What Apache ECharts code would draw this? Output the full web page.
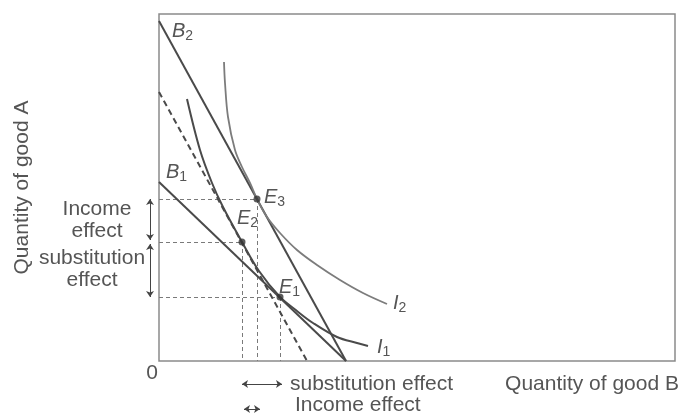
<!DOCTYPE html>
<html><head><meta charset="utf-8">
<script src="https://cdn.jsdelivr.net/npm/echarts@6/dist/echarts.min.js"></script>
<style>html,body{margin:0;padding:0;background:#fff}#c{width:680px;height:416px}</style>
</head><body><div id="c"></div>
<script>
// ---- data (units: chart value units on both axes) ----
const xRange = [0, 516];
const yRange = [0, 347];
const budgetB1 = [[0, 179], [187, 0]];
const budgetB2 = [[0, 340], [187, 0]];
const budgetHelper = [[0, 269], [148, 0]];
const curveI1 = [[28,262],[41,211],[53,178],[64,154],[83,119],[100,90],[121,64],[138,50],[154,38],[178,24],[198,18],[209,15]];
const curveI2 = [[65,299],[66,278],[69,244],[76,211],[83,194],[91,178],[98,162],[108,144],[121,128],[138,111],[158,96],[181,81],[204,68],[228,57]];
const eqNames = ['1', '2', '3'];
const eqX = [121, 83, 98];
const eqY = [64, 119, 162];

// ---- styles ----
const FONT = "'Liberation Sans', Arial, Helvetica, sans-serif";
const TXT = '#555';
const DARK = '#4a4a4a';
const FS = 21;

const chart = echarts.init(document.getElementById('c'));

const guides = [];
eqX.forEach((x, i) => {
  guides.push({ coords: [[xRange[0], eqY[i]], [x, eqY[i]]] });
  guides.push({ coords: [[x, eqY[i]], [x, yRange[0]]] });
});

const leftArrowX = -9, rowSub = -23, rowInc = -48, gap = 2;
const arrows = [
  { coords: [[leftArrowX, eqY[2]], [leftArrowX, eqY[1] + gap]] },
  { coords: [[leftArrowX, eqY[1] - gap], [leftArrowX, eqY[0]]] },
  { coords: [[eqX[1], rowSub], [eqX[0] + 2, rowSub]] },
  { coords: [[eqX[1] + 2, rowInc], [eqX[2] + 3, rowInc]] }
];

const solid = (data, color, w) => ({
  type: 'line', data, showSymbol: false, silent: true, z: 3,
  lineStyle: { color, width: w }
});

chart.setOption({
  animation: false,
  backgroundColor: '#fff',
  grid: { left: 159, top: 14, width: 516, height: 347, show: true, borderColor: '#8a8a8a', borderWidth: 1.5 },
  xAxis: { type: 'value', min: xRange[0], max: xRange[1], axisLine: { show: false }, axisTick: { show: false }, axisLabel: { show: false }, splitLine: { show: false } },
  yAxis: { type: 'value', min: yRange[0], max: yRange[1], axisLine: { show: false }, axisTick: { show: false }, axisLabel: { show: false }, splitLine: { show: false },
    name: 'Quantity of good A', nameLocation: 'middle', nameGap: 126,
    nameTextStyle: { fontFamily: FONT, fontSize: FS, color: TXT } },
  series: [
    { type: 'lines', coordinateSystem: 'cartesian2d', data: guides, silent: true, z: 1,
      lineStyle: { color: '#7a7a7a', width: 1, type: [4, 3], opacity: 1 } },
    solid(budgetB1, DARK, 2),
    solid(budgetB2, DARK, 2),
    { type: 'line', data: budgetHelper, showSymbol: false, silent: true, z: 3,
      lineStyle: { color: DARK, width: 2, type: [6, 4] } },
    Object.assign(solid(curveI1, DARK, 2), { smooth: 0.35 }),
    Object.assign(solid(curveI2, '#7c7c7c', 1.8), { smooth: 0.35 }),
    { type: 'lines', coordinateSystem: 'cartesian2d', data: arrows, silent: true, clip: false, z: 4,
      symbol: ['arrow', 'arrow'], symbolSize: 6,
      lineStyle: { color: '#444', width: 1, opacity: 1 } },
    { type: 'scatter', data: eqX.map((x, i) => [x, eqY[i]]), symbolSize: 7, silent: true, z: 5,
      itemStyle: { color: '#333' } }
  ]
});

const P = p => chart.convertToPixel({ gridIndex: 0 }, p);
const rich = {
  m: { fontFamily: FONT, fontStyle: 'italic', fontSize: 20, fill: TXT },
  s: { fontFamily: FONT, fontSize: 14, fill: TXT, lineHeight: 14, padding: [10, 0, 0, 0] }
};
const texts = [];
function addText(anchor, dx, dy, text, align, extra) {
  const p = P(anchor);
  texts.push({ type: 'text', x: p[0] + dx, y: p[1] + dy, silent: true, z: 10,
    style: Object.assign({ text, fill: TXT, fontFamily: FONT, fontSize: FS, align: align || 'left', verticalAlign: 'middle', rich }, extra || {}) });
}
addText(budgetB2[0], 13, 10, '{m|B}{s|2}');
addText(budgetB1[0], 7, -10, '{m|B}{s|1}');
const eqOff = [[-1, -10], [-5, -24], [7, -2]];
eqX.forEach((x, i) => addText([x, eqY[i]], eqOff[i][0], eqOff[i][1], '{m|E}{s|' + eqNames[i] + '}'));
addText(curveI1[curveI1.length - 1], 9, 1, '{m|I}{s|1}');
addText(curveI2[curveI2.length - 1], 6, -1, '{m|I}{s|2}');
addText([0, 0], -7, 12, '0', 'center');
addText([xRange[1], 0], 4, 23, 'Quantity of good B', 'right');
addText([0, (eqY[2] + eqY[1]) / 2], -62, 0, 'Income\neffect', 'center', { lineHeight: 22 });
addText([0, (eqY[1] + eqY[0]) / 2], -67, 0, 'substitution\neffect', 'center', { lineHeight: 22 });
addText([eqX[0], rowSub], 10, 0, 'substitution effect');
addText([eqX[2], rowInc], 38, -4, 'Income effect');
chart.setOption({ graphic: texts });
</script>
</body></html>
